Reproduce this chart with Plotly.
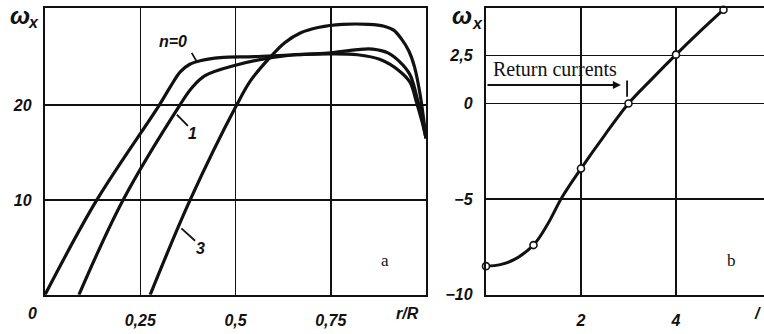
import plotly.graph_objects as go

# ---------- data: panel a ----------
r_n0 = [0, 0.136, 0.30, 0.33, 0.355, 0.38, 0.41, 0.46, 0.55, 0.65, 0.75, 0.82, 0.88, 0.93, 0.958, 0.975, 0.99, 1.0]
w_n0 = [0, 10, 20, 22.0, 23.5, 24.3, 24.7, 25.0, 25.1, 25.3, 25.4, 25.3, 24.8, 23.6, 22.4, 20.3, 18.2, 16.5]

r_n1 = [0.089, 0.205, 0.354, 0.385, 0.42, 0.50, 0.58, 0.66, 0.75, 0.82, 0.86, 0.90, 0.93, 0.958, 0.975, 0.99, 1.0]
w_n1 = [0, 10, 20, 21.8, 23.1, 24.2, 24.9, 25.3, 25.5, 25.85, 25.9, 25.5, 24.6, 23.2, 21.0, 18.5, 16.5]

r_n3 = [0.276, 0.381, 0.503, 0.54, 0.59, 0.63, 0.67, 0.72, 0.78, 0.85, 0.89, 0.915, 0.935, 0.955, 0.97, 0.985, 1.0]
w_n3 = [0, 10, 20, 22.6, 25.0, 26.6, 27.6, 28.2, 28.5, 28.5, 28.3, 27.9, 27.0, 25.7, 24.0, 21.0, 16.5]

# ---------- data: panel b ----------
n_pts = [0, 1, 2, 3, 4, 5]
w_pts = [-8.5, -7.4, -3.4, 0, 2.55, 4.9]
n_curve = [0, 0.3, 0.6, 1.0, 1.3, 1.6, 2, 2.5, 3, 3.5, 4, 4.5, 5]
w_curve = [-8.5, -8.42, -8.15, -7.4, -6.3, -4.9, -3.4, -1.65, 0, 1.3, 2.55, 3.75, 4.9]

xa_ticks = [0.25, 0.5, 0.75]
xa_text = ["0,25", "0,5", "0,75"]
ya_ticks = [10, 20]
ya_text = ["10", "20"]
xb_ticks = [2, 4]
xb_text = ["2", "4"]
yb_ticks = [-10, -5, 0, 2.5]
yb_text = ["\u221210", "\u22125", "0", "2,5"]

INK = "#111111"
tickfont = dict(family="Liberation Sans", size=16, color=INK, style="italic", weight="bold")

fig = go.Figure()
for rr, ww in [(r_n0, w_n0), (r_n1, w_n1), (r_n3, w_n3)]:
    fig.add_trace(go.Scatter(x=rr, y=ww, mode="lines", xaxis="x", yaxis="y",
                             line=dict(color=INK, width=3.2, shape="spline", smoothing=1.0),
                             hoverinfo="skip", showlegend=False))

fig.add_trace(go.Scatter(x=n_curve, y=w_curve, mode="lines", xaxis="x2", yaxis="y2",
                         line=dict(color=INK, width=3, shape="spline", smoothing=1.0),
                         hoverinfo="skip", showlegend=False))
fig.add_trace(go.Scatter(x=n_pts, y=w_pts, mode="markers", xaxis="x2", yaxis="y2",
                         marker=dict(symbol="circle", size=7, color="white",
                                     line=dict(color=INK, width=1.6)),
                         cliponaxis=False, hoverinfo="skip", showlegend=False))

axis_common = dict(showgrid=True, gridcolor=INK, gridwidth=1.5, showline=True,
                   linecolor=INK, linewidth=2.2, zeroline=False, ticks="",
                   tickfont=tickfont, fixedrange=True)

W, H = 764, 334
fig.update_layout(
    width=W, height=H, autosize=False,
    margin=dict(l=0, r=0, t=0, b=0),
    paper_bgcolor="white", plot_bgcolor="white",
    showlegend=False,
    xaxis=dict(domain=[45 / W, 426 / W], range=[0, 1], anchor="y",
               tickvals=xa_ticks, ticktext=xa_text, mirror=True,
               ticklabelstandoff=10, **axis_common),
    yaxis=dict(domain=[1 - 303 / H, 1 - 8 / H], range=[0, 30.25], anchor="x",
               tickvals=ya_ticks, ticktext=ya_text, mirror=True,
               ticklabelstandoff=8, **axis_common),
    xaxis2=dict(domain=[486 / W, 1], range=[0, 5.853], anchor="y2",
                tickvals=xb_ticks, ticktext=xb_text, mirror=True,
                ticklabelstandoff=10, **axis_common),
    yaxis2=dict(domain=[1 - 303 / H, 1 - 8 / H], range=[-10, 5], anchor="x2",
                tickvals=yb_ticks, ticktext=yb_text, mirror=False,
                ticklabelstandoff=8, **axis_common),
)

anns = []


def ptext(px, py, text, font):
    anns.append(dict(x=px / W, y=1 - py / H, xref="paper", yref="paper", text=text,
                     xanchor="center", yanchor="middle", showarrow=False, font=font))


label_font = dict(family="Liberation Sans", size=16, color=INK, style="italic", weight="bold")
ptext(32, 322, "0", label_font)
ptext(407, 322, "r/R", label_font)
ptext(757, 322, "/", label_font)
# omega_x labels built from two pieces
omega_font = dict(family="Liberation Sans", size=24, color=INK, style="italic", weight="bold")
sub_font = dict(family="Liberation Sans", size=16, color=INK, style="italic", weight="bold")
for ox, oy, sx, sy in [(20, 16, 33, 23), (462, 16, 477, 24)]:
    ptext(ox, oy, "\u03c9", omega_font)
    ptext(sx, sy, "x", sub_font)
serif = dict(family="Liberation Serif", size=17, color=INK)
ptext(385, 268, "a", serif)
ptext(731, 268, "b", serif)


def dtext(x, y, text, font, xref="x", yref="y"):
    anns.append(dict(x=x, y=y, xref=xref, yref=yref, text=text, xanchor="center",
                     yanchor="middle", showarrow=False, font=font))


dtext(0.336, 26.7, "n=0", label_font)
dtext(0.388, 17.0, "1", label_font)
dtext(0.408, 4.9, "3", label_font)
anns.append(dict(x=0.1, y=1.82, xref="x2", yref="y2", text="Return currents",
                 xanchor="left", yanchor="middle", showarrow=False,
                 font=dict(family="Liberation Serif", size=20, color=INK)))
anns.append(dict(x=2.84, y=0.97, xref="x2", yref="y2", ax=0.0, ay=0.97,
                 axref="x2", ayref="y2", text="", showarrow=True,
                 arrowhead=2, arrowsize=0.8, arrowwidth=2, arrowcolor=INK))
fig.update_layout(annotations=anns)

shapes = []
shapes.append(dict(type="line", xref="x", yref="y", x0=0.385, y0=25.5, x1=0.398, y1=24.6,
                   line=dict(color=INK, width=1.8)))
shapes.append(dict(type="line", xref="x", yref="y", x0=0.346, y0=19.0, x1=0.375, y1=17.8,
                   line=dict(color=INK, width=1.8)))
shapes.append(dict(type="line", xref="x", yref="y", x0=0.358, y0=7.0, x1=0.394, y1=5.7,
                   line=dict(color=INK, width=1.8)))
shapes.append(dict(type="line", xref="x2", yref="y2", x0=2.97, y0=0.35, x1=2.97, y1=1.2,
                   line=dict(color=INK, width=1.8)))
fig.update_layout(shapes=shapes)

fig.write_html("out.html", config={"displayModeBar": False, "staticPlot": True},
               post_script="document.body.style.margin='0';document.body.style.overflow='hidden';")
